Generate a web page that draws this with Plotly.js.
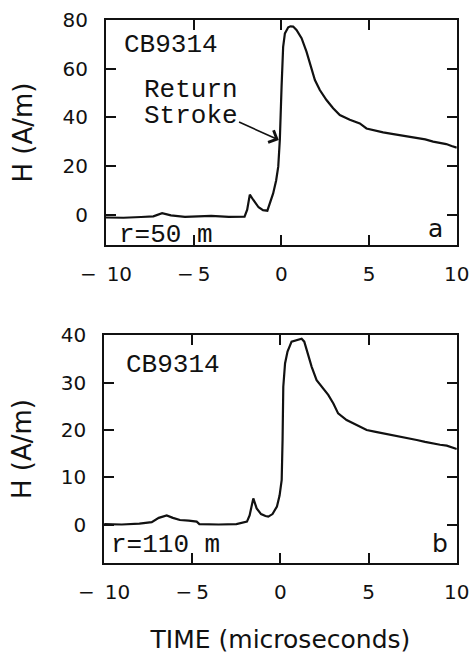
<!DOCTYPE html>
<html>
<head>
<meta charset="utf-8">
<script src="https://cdn.plot.ly/plotly-3.0.1.min.js"></script>
<style>html,body{margin:0;padding:0;background:#fff;}#chart{width:469px;height:660px;}</style>
</head>
<body>
<div id="chart"></div>
<script>
// Panel a: r = 50 m
const timeA = [-10, -9, -8, -7.3, -6.8, -6.3, -5.5, -4, -3, -2.1, -1.95, -1.8, -1.6, -1.3, -1.05, -0.8, -0.47, -0.3, -0.18, -0.09, 0.01, 0.1, 0.2, 0.39, 0.52, 0.67, 0.86, 1.15, 1.43, 1.62, 1.91, 2.19, 2.57, 2.95, 3.33, 3.9, 4.47, 4.85, 5.3, 5.8, 6.3, 6.75, 7.2, 7.7, 8.2, 8.65, 9.0, 9.4, 9.7, 10];
const hA    = [-1.2, -1.3, -1.0, -0.7, 0.6, -0.3, -0.9, -0.5, -0.9, -0.8, 2, 8.2, 6, 3, 1.85, 1.6, 8.7, 14, 19.7, 30.7, 52.6, 69, 74.5, 77, 77.4, 77.3, 75.9, 72.5, 67, 62.2, 55.3, 51.2, 47.1, 43.7, 40.9, 39, 37.5, 35.4, 34.6, 33.8, 33.2, 32.7, 32.2, 31.7, 30.9, 30, 29.6, 29, 28.2, 27.5];

// Panel b: r = 110 m
const timeB = [-10, -9, -8, -7.3, -6.9, -6.45, -6.1, -5.7, -5.2, -4.75, -4.6, -3.5, -2.5, -1.9, -1.75, -1.54, -1.35, -1.1, -0.85, -0.69, -0.45, -0.2, -0.05, 0.07, 0.12, 0.16, 0.26, 0.4, 0.63, 1.0, 1.2, 1.35, 1.48, 1.77, 2.05, 2.33, 2.71, 3.0, 3.27, 3.75, 4.32, 4.89, 5.4, 5.83, 6.3, 6.78, 7.25, 7.73, 8.2, 8.68, 9.05, 9.43, 10];
const hB    = [0.2, 0.1, 0.3, 0.6, 1.5, 2.0, 1.5, 1.05, 0.9, 0.7, 0.2, 0.1, 0.2, 0.7, 2.0, 5.6, 3.5, 2.3, 1.9, 1.75, 2.3, 3.9, 6.2, 9.5, 18, 29.1, 34, 36.5, 38.6, 39, 39.2, 38.6, 36.8, 33.3, 30.5, 29.1, 27.4, 25.6, 23.5, 22.1, 21.05, 20, 19.6, 19.3, 19, 18.7, 18.3, 17.9, 17.5, 17.1, 16.9, 16.7, 16];

const xTickVals = [-10, -5, 0, 5, 10];
const xTickText = ['\u2212\u200210', '\u2212\u20095', '0', '5', '10'];
const yTickValsA = [0, 20, 40, 60, 80];
const yTickValsB = [0, 10, 20, 30, 40];

const tickFont = {family: 'DejaVu Sans', size: 20, color: '#111'};
const monoFont = {family: 'Liberation Mono', size: 26, color: '#111'};
const titleFont = {family: 'DejaVu Sans', size: 26, color: '#111'};

const axisCommon = {
  showline: true, linewidth: 2, linecolor: '#111', mirror: 'ticks',
  ticks: 'inside', ticklen: 10, tickwidth: 2, tickcolor: '#111',
  showgrid: false, zeroline: false, tickfont: tickFont, fixedrange: true,
  ticklabeloverflow: 'allow'
};

const traces = [
  {x: timeA, y: hA, xaxis: 'x', yaxis: 'y', mode: 'lines', line: {color: '#111', width: 2.2}, hoverinfo: 'skip'},
  {x: timeB, y: hB, xaxis: 'x2', yaxis: 'y2', mode: 'lines', line: {color: '#111', width: 2.2}, hoverinfo: 'skip'}
];

const layout = {
  width: 469, height: 660,
  margin: {l: 0, r: 0, t: 0, b: 0},
  paper_bgcolor: '#fff', plot_bgcolor: '#fff',
  showlegend: false,
  xaxis: Object.assign({}, axisCommon, {domain: [0.226, 0.974], range: [-10, 10], anchor: 'y', tickvals: xTickVals, ticktext: xTickText, ticklabelstandoff: 10}),
  yaxis: Object.assign({}, axisCommon, {domain: [0.6288, 0.9697], range: [-12.5, 80], anchor: 'x', tickvals: yTickValsA, ticklabelstandoff: 12,
    title: {text: 'H (A/m)', font: titleFont, standoff: 22}}),
  xaxis2: Object.assign({}, axisCommon, {domain: [0.222, 0.974], range: [-10, 10], anchor: 'y2', tickvals: xTickVals, ticktext: xTickText, ticklabelstandoff: 10,
    title: {text: 'TIME (microseconds)', font: {family: 'DejaVu Sans', size: 25, color: '#111'}, standoff: 28}}),
  yaxis2: Object.assign({}, axisCommon, {domain: [0.147, 0.4924], range: [-8, 40], anchor: 'x2', tickvals: yTickValsB, ticklabelstandoff: 12,
    title: {text: 'H (A/m)', font: titleFont, standoff: 22}}),
  annotations: [
    {xref: 'x', yref: 'y', x: -9.1, y: 69.8, text: 'CB9314', showarrow: false, xanchor: 'left', yanchor: 'middle', font: monoFont},
    {xref: 'x', yref: 'y', x: -7.95, y: 51.3, text: 'Return', showarrow: false, xanchor: 'left', yanchor: 'middle', font: monoFont},
    {xref: 'x', yref: 'y', x: -7.95, y: 40.5, text: 'Stroke', showarrow: false, xanchor: 'left', yanchor: 'middle', font: monoFont},
    {xref: 'x', yref: 'y', axref: 'x', ayref: 'y', x: -0.15, y: 30.7, ax: -2.5, ay: 38.3, text: '', showarrow: true, arrowhead: 4, arrowsize: 1.6, arrowwidth: 1.6, arrowcolor: '#111'},
    {xref: 'x', yref: 'y', x: -9.4, y: -8.4, text: 'r=50 m', showarrow: false, xanchor: 'left', yanchor: 'middle', font: monoFont},
    {xref: 'x', yref: 'y', x: 8.8, y: -5.6, text: 'a', showarrow: false, xanchor: 'center', yanchor: 'middle', font: {family: 'DejaVu Sans', size: 25, color: '#111'}},
    {xref: 'x2', yref: 'y2', x: -8.85, y: 33.7, text: 'CB9314', showarrow: false, xanchor: 'left', yanchor: 'middle', font: monoFont},
    {xref: 'x2', yref: 'y2', x: -9.7, y: -4.2, text: 'r=110 m', showarrow: false, xanchor: 'left', yanchor: 'middle', font: monoFont},
    {xref: 'x2', yref: 'y2', x: 9.04, y: -3.8, text: 'b', showarrow: false, xanchor: 'center', yanchor: 'middle', font: {family: 'DejaVu Sans', size: 25, color: '#111'}}
  ]
};

Plotly.newPlot('chart', traces, layout, {staticPlot: true, displayModeBar: false});
</script>
</body>
</html>
